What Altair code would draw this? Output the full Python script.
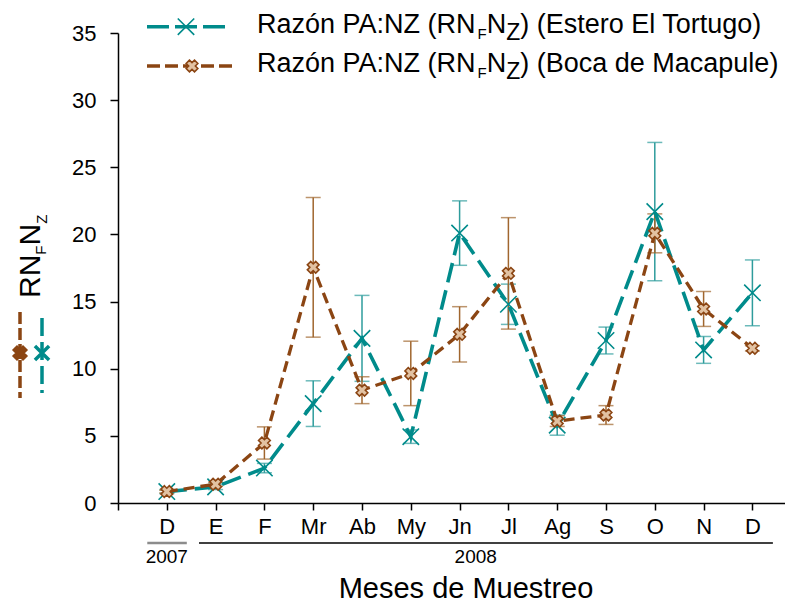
import json
import altair as alt
import pandas as pd

# ---------------- data ----------------
months = ["D", "E", "F", "Mr", "Ab", "My", "Jn", "Jl", "Ag", "S", "O", "N", "D"]
month_pos = list(range(1, 14))
series_names = ["Estero El Tortugo", "Boca de Macapule"]
tortugo_mean = [0.85, 1.2, 2.6, 7.4, 12.26, 4.94, 20.1, 14.8, 5.8, 12.1, 21.7, 11.4, 15.65]
tortugo_err = [0.15, 0.2, 0.35, 1.7, 3.2, 0.5, 2.4, 1.5, 0.75, 1.0, 5.15, 1.0, 2.45]
macapule_mean = [0.85, 1.4, 4.47, 17.55, 8.4, 9.65, 12.56, 17.1, 6.1, 6.55, 20.08, 14.45, 11.52]
macapule_err = [0.1, 0.15, 1.2, 5.2, 1.0, 2.4, 2.06, 4.15, 0.4, 0.7, 1.45, 1.3, 0.2]
y_ticks = [0, 5, 10, 15, 20, 25, 30, 35]
years = ["2007", "2008"]
year_start = [0.6, 1.66]
year_end = [1.41, 13.42]
year_label_pos = [1.0, 7.33]

# ---------------- style ----------------
FONT = "Liberation Sans"
TEAL = "#008B8B"
TEAL_ERR = "#2E9C9C"
BROWN = "#8B4513"
BROWN_ERR = "#A0662E"
BROWN_FILL = "#E2C2A2"
YEAR_COLORS = ["#8c8c8c", "#000000"]
YEAR_WIDTHS = [2.5, 1.6]
W, H = 667, 470
PX_PER_MONTH = 48.8
XPATH = "M-1,-1L1,1M-1,1L1,-1"

x_scale = alt.Scale(domain=[0, W / PX_PER_MONTH], nice=False, zero=False)
y_scale = alt.Scale(domain=[0, 35], nice=False)

x_axis = alt.Axis(
    values=list(range(0, 14)),
    labelExpr=f"{json.dumps([''] + months)}[datum.value]",
    title=None, grid=False, tickSize=7, tickColor="black", tickWidth=1.5,
    domainColor="black", domainWidth=1.5, labelFont=FONT, labelFontSize=22,
    labelColor="black", labelPadding=6, labelFlush=False, labelOverlap=False,
    labelBound=False,
)
y_axis = alt.Axis(
    values=y_ticks, title=None, grid=False, tickSize=8, tickColor="black",
    tickWidth=1.5, domainColor="black", domainWidth=1.5, labelFont=FONT,
    labelFontSize=22, labelColor="black", labelPadding=14, labelFlush=False,
    labelOverlap=False,
)


def X(field="pos"):
    return alt.X(f"{field}:Q", scale=x_scale, axis=x_axis)


def Y(field):
    return alt.Y(f"{field}:Q", scale=y_scale, axis=y_axis)


def series_df(mean, err):
    return pd.DataFrame({
        "pos": month_pos,
        "mean": mean,
        "lo": [m - e for m, e in zip(mean, err)],
        "hi": [m + e for m, e in zip(mean, err)],
    })


def series_layers(df, color, err_color, dash, width, point):
    base = alt.Chart(df)
    rule = base.mark_rule(color=err_color, strokeWidth=1.5).encode(x=X(), y=Y("lo"), y2="hi:Q")
    cap_lo = base.mark_tick(orient="horizontal", size=15, thickness=1.5, color=err_color).encode(x=X(), y=Y("lo"))
    cap_hi = base.mark_tick(orient="horizontal", size=15, thickness=1.5, color=err_color).encode(x=X(), y=Y("hi"))
    line = base.mark_line(color=color, strokeWidth=width, strokeDash=dash).encode(x=X(), y=Y("mean"))
    pts = base.mark_point(**point).encode(x=X(), y=Y("mean"))
    return [rule, cap_lo, cap_hi], [line, pts]


teal_point = dict(shape=XPATH, size=270, filled=False, color=TEAL, strokeWidth=1.6, opacity=1)
brown_point = dict(shape="cross", angle=45, size=140, filled=True, fill=BROWN_FILL,
                   stroke=BROWN, strokeWidth=1.6, opacity=1)

t_err, t_main = series_layers(series_df(tortugo_mean, tortugo_err), TEAL, TEAL_ERR, [20, 8], 3.6, teal_point)
b_err, b_main = series_layers(series_df(macapule_mean, macapule_err), BROWN, BROWN_ERR, [11, 6], 3.3, brown_point)

# ---------------- annotations ----------------
AW = {' ': 278, '(': 333, ')': 333, ':': 278, 'A': 667, 'B': 667, 'E': 667, 'F': 611,
      'M': 833, 'N': 722, 'P': 667, 'R': 722, 'T': 611, 'Z': 611, 'a': 556, 'c': 500,
      'd': 556, 'e': 556, 'g': 556, 'l': 222, 'n': 556, 'o': 556, 'ó': 556, 'p': 556,
      'r': 333, 's': 500, 't': 278, 'u': 556, 'z': 500}


def tw(s, size):
    return sum(AW.get(c, 556) for c in s) * size / 1000.0


def txt(s, x, y, size, angle=0, align="left", baseline="alphabetic", color="black"):
    return alt.Chart(pd.DataFrame({"t": [s]})).mark_text(
        align=align, baseline=baseline, fontSize=size, font=FONT, angle=angle, color=color
    ).encode(x=alt.value(x), y=alt.value(y), text="t:N")


def one():
    return alt.Chart(pd.DataFrame({"a": [0]}))


ann = []

# legend rows
MAIN, SUB = 27, 15
leg_specs = [
    (series_names[0], 0, -6.3, TEAL, [22, 6], 3.6, teal_point, 68, 78),
    (series_names[1], 39, 33, BROWN, [13, 5], 3.3, brown_point, 74, 88),
]
for name, base_y, line_y, color, dash, width, point, mx, ln in leg_specs:
    ann.append(one().mark_rule(color=color, strokeWidth=width, strokeDash=dash).encode(
        x=alt.value(29), x2=alt.value(29 + ln), y=alt.value(line_y)))
    ann.append(one().mark_point(**point).encode(x=alt.value(mx), y=alt.value(line_y)))
    x0 = 139
    s1 = "Razón PA:NZ (RN"
    ann.append(txt(s1, x0, base_y, MAIN)); x0 += tw(s1, MAIN)
    ann.append(txt("F", x0, base_y + 6, SUB)); x0 += tw("F", SUB)
    ann.append(txt("N", x0, base_y, MAIN)); x0 += tw("N", MAIN)
    ann.append(txt("Z", x0, base_y + 7, 23)); x0 += tw("Z", 23)
    ann.append(txt(") (" + name + ")", x0, base_y, MAIN))

# rotated y title RN_F N_Z
YT, YS = 30, 15
yy = 265
ann.append(txt("RN", -78, yy, YT, angle=270)); yy -= tw("RN", YT)
ann.append(txt("F", -72, yy, YS, angle=270)); yy -= tw("F", YS)
ann.append(txt("N", -78, yy, YT, angle=270)); yy -= tw("N", YT)
ann.append(txt("Z", -71, yy, YS, angle=270))

# vertical legend symbols next to y title
ann.append(one().mark_rule(color=BROWN, strokeWidth=3.5, strokeDash=[12, 4]).encode(
    x=alt.value(-98), y=alt.value(279), y2=alt.value(365)))
ann.append(one().mark_point(shape="cross", angle=45, size=200, filled=True, fill=BROWN,
                            stroke=BROWN, strokeWidth=1.5, opacity=1).encode(
    x=alt.value(-98), y=alt.value(320)))
ann.append(one().mark_rule(color=TEAL, strokeWidth=3.5, strokeDash=[18, 6]).encode(
    x=alt.value(-76), y=alt.value(285), y2=alt.value(360)))
ann.append(one().mark_point(shape=XPATH, size=200, filled=False, color=TEAL,
                            strokeWidth=3.5, opacity=1).encode(
    x=alt.value(-76), y=alt.value(320)))

# year brackets
ydf = pd.DataFrame({"year": years, "s": year_start, "e": year_end,
                    "lp": year_label_pos, "c": YEAR_COLORS, "w": YEAR_WIDTHS})
ann.append(alt.Chart(ydf).mark_rule().encode(
    x=alt.X("s:Q", scale=x_scale, axis=x_axis), x2="e:Q", y=alt.value(510),
    color=alt.Color("c:N", scale=None),
    strokeWidth=alt.StrokeWidth("w:Q", scale=None)))
ann.append(alt.Chart(ydf).mark_text(font=FONT, fontSize=19, align="center",
                                    baseline="alphabetic", color="black").encode(
    x=alt.X("lp:Q", scale=x_scale, axis=x_axis), y=alt.value(530), text="year:N"))

# x title
ann.append(txt("Meses de Muestreo", 348, 565, 29, align="center"))

chart = alt.layer(*(t_err + b_err + t_main + b_main + ann)).properties(
    width=W, height=H,
    autosize=alt.AutoSizeParams(type="none"),
    padding={"left": 110, "top": 25, "right": 0, "bottom": 102},
).configure_view(strokeWidth=0)

chart.save("out.html", embed_options={"renderer": "svg", "actions": False})
